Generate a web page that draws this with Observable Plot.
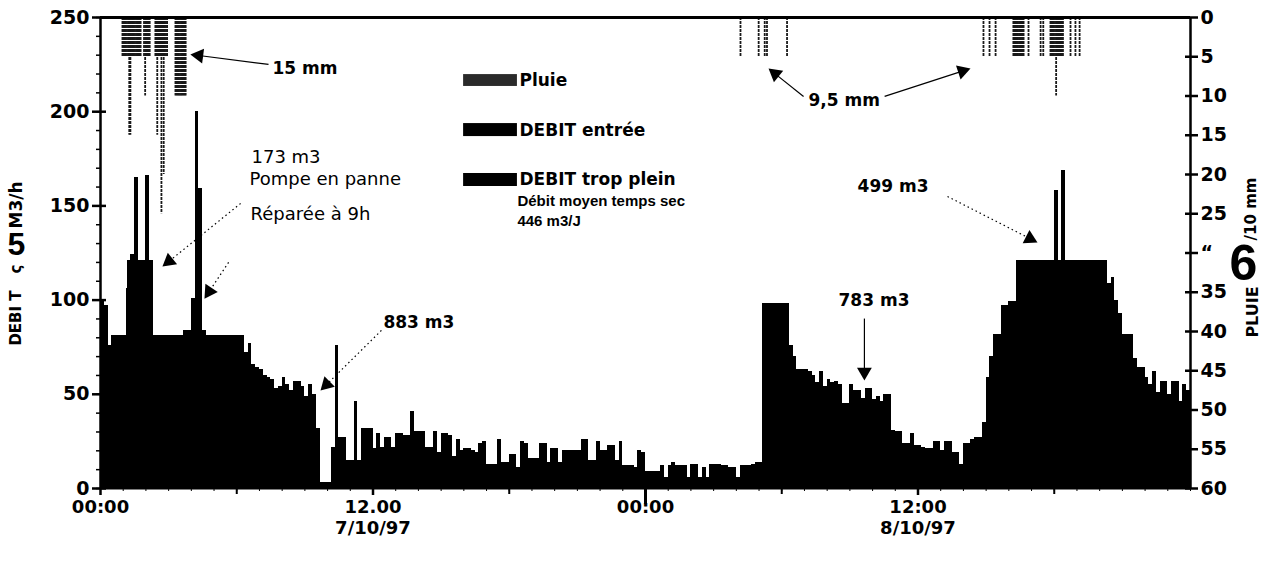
<!DOCTYPE html>
<html><head><meta charset="utf-8">
<script src="https://cdn.jsdelivr.net/npm/d3@7"></script>
<script src="https://cdn.jsdelivr.net/npm/@observablehq/plot@0.6"></script>
<style>body{margin:0;background:#fff} #chart svg{display:block}</style>
</head><body><div id="chart"></div>
<script>
// ---- DATA ----
const stepMinutes = 10; // DEBIT entrée, one value every 10 minutes from 7/10/97 00:00
const debitEntree = [
100,97,76,81,81,81,81,106,124,165,121,121,166,106,81,81,81,81,81,81,81,81,84,84,101,200,159,84,81,81,81,81,81,81,81,81,81,81,72,77,
66,64,63,60,59,58,53,54,59,55,52,57,57,54,49,55,50,32,3,3,3,22,76,27,27,15,15,46,15,32,32,32,21,29,22,27,27,22,29,29,
28,28,41,30,30,30,22,22,30,19,29,29,28,17,26,20,21,21,20,19,24,25,13,13,13,26,14,14,18,18,11,25,24,16,16,16,24,24,14,21,
21,14,20,20,20,20,20,26,26,15,15,25,20,20,23,23,15,25,12,12,12,11,20,19,9,9,9,9,12,6,12,14,12,12,12,6,13,13,6,11,
6,13,13,13,12,12,11,11,6,12,12,12,13,14,14,61,98,98,98,98,97,93,76,70,63,63,63,62,60,56,62,54,58,56,57,55,45,45,55,52,
52,48,53,53,47,49,46,50,50,31,30,30,24,24,29,23,23,22,21,21,25,25,20,25,25,19,19,13,24,24,26,27,27,35,59,70,82,82,97,97,
99,99,121,121,121,121,121,121,121,121,121,121,158,121,169,121,121,121,121,121,121,121,121,121,121,121,109,112,100,93,82,82,82,69,64,64,59,55,62,51,
57,57,50,57,57,46,55,52
];
// DEBIT trop plein: flat overflow plateaus (start hour, end hour, m3/h)
const tropPleinStart = [0.5, 1.17, 29.17, 40.33];
const tropPleinEnd   = [6.25, 2.33, 30.33, 44.33];
const tropPleinValue = [81, 121, 98, 121];
// Pluie: tipping events (minutes from 7/10/97 00:00) and depth in 1/10 mm
const rainMinute = [58,61,64,67,70,73,76,79,82,85,88,91,94,97,100,103,106,
 115,118,121,124,127,130,
 145,148,150,153,156,159,161,164,167,170,173,176,
 198,201,204,207,210,213,216,219,222,225,
 1691,1739,1755,1761,1814,
 2333,2349,2365,2412,2415,2418,2421,2424,2427,2430,2433,2436,2439,2452,2484,2491,
 2510,2513,2516,2519,2522,2525,2528,2531,2534,2537,2540,2543,2563,2576,2587];
const rainTenths = [5,5,5,5,5,5,15,15,5,5,5,5,5,5,5,5,5,
 5,10,5,5,5,5,
 5,5,15,5,5,5,25,5,20,5,5,5,
 10,10,10,10,10,10,10,10,10,10,
 5,5,5,5,5,
 5,5,5,5,5,5,5,5,5,5,5,5,5,5,5,5,
 5,5,5,5,5,10,5,5,5,5,5,5,5,5,5];
// axes
const xTickHours = [0, 12, 24, 36];
const xTickLabels = ["00:00", "12.00", "00:00", "12:00"];
const dateTickHours = [12, 36];
const dateTickLabels = ["7/10/97", "8/10/97"];
const debitTicks = [0, 50, 100, 150, 200, 250];
const pluieTicks = [0,5,10,15,20,25,30,35,40,45,50,55,60];
const pluieTickLabels = ["0","5","10","15","20","25","\u201c","35","40","45","50","55","60"];
// legend & annotations
const legendNames = ["Pluie", "DEBIT entrée", "DEBIT trop plein"];
const boldNotes = ["15 mm", "9,5 mm", "883 m3", "783 m3", "499 m3"];
const boldNoteHour = [7.57, 31.18, 12.46, 32.5, 33.34];
const boldNoteDebit = [222.9, 205.9, 88.1, 99.8, 160.3];
const plainNotes = ["173 m3", "Pompe en panne", "Réparée à 9h"];
const plainNoteHour = [6.65, 6.56, 6.61];
const plainNoteDebit = [175.7, 164.0, 145.4];
const dryNotes = ["Débit moyen temps sec", "446 m3/J"];
const dryNoteDebit = [152.3, 141.7];
const arrowFromHour  = [7.40, 30.96, 34.53, 6.17, 5.64, 12.37, 33.64, 37.30];
const arrowFromDebit = [225.1, 208.1, 208.1, 151.3, 120.0, 83.9, 90.2, 155.0];
const arrowToHour    = [3.96, 29.42, 38.31, 2.73, 4.58, 9.69, 33.64, 41.26];
const arrowToDebit   = [230.4, 222.9, 222.9, 117.8, 100.8, 52.0, 57.3, 130.6];
const arrowDotted    = [false, false, false, true, true, true, false, true];

// ---- BUILD ----
const W = 1272, H = 566, mL = 100, mR = 82, mT = 17, mB = 78;
const xMax = 48, yMax = 250, pluieMax = 60;
const pxH = (W - mL - mR) / xMax, pxD = (H - mT - mB) / yMax;
const pluieToDebit = k => yMax - k * yMax / pluieMax;

const entreeData = debitEntree.map((v, i) => ({t0: i * stepMinutes / 60, t1: (i + 1) * stepMinutes / 60, v}));
const tpData = tropPleinValue.map((v, i) => ({t0: tropPleinStart[i], t1: tropPleinEnd[i], v}));
const rainData = rainMinute.map((m, i) => ({h: m / 60, y2: pluieToDebit(rainTenths[i])}));

const arrows = arrowFromHour.map((x1, i) => {
  const x2 = arrowToHour[i], y1 = arrowFromDebit[i], y2 = arrowToDebit[i];
  const dxp = (x2 - x1) * pxH, dyp = -(y2 - y1) * pxD, len = Math.hypot(dxp, dyp);
  const ux = dxp / len, uy = dyp / len, back = 8.5;
  return {x1, y1, xc: x2 - back * ux / pxH, yc: y2 + back * uy / pxD,
          angle: Math.atan2(ux, -uy) * 180 / Math.PI, dotted: arrowDotted[i]};
});

const legendRows = legendNames.map((name, i) => ({name, top: [219.7, 193.7, 167.2][i], bottom: [213.4, 186.8, 160.3][i], fill: ["#2a2a2a", "#000", "#000"][i]}));

const bold = "bold";
const fam = "DejaVu Sans, Liberation Sans, Arial, sans-serif";
const narrow = "Liberation Sans Narrow, Liberation Sans, sans-serif";
const blank = () => "";

const chart = Plot.plot({
  width: W, height: H, marginLeft: mL, marginRight: mR, marginTop: mT, marginBottom: mB,
  x: {domain: [0, xMax], axis: null},
  y: {domain: [0, yMax], axis: null},
  style: {fontFamily: fam, background: "#fff", color: "#000", overflow: "visible"},
  marks: [
    Plot.rect(entreeData, {x1: "t0", x2: "t1", y1: 0, y2: "v", fill: "#000", shapeRendering: "crispEdges"}),
    Plot.rect(tpData, {x1: "t0", x2: "t1", y1: 0, y2: "v", fill: "#000", shapeRendering: "crispEdges"}),
    Plot.ruleX(rainData, {x: "h", y1: yMax, y2: "y2", stroke: "#1a1a1a", strokeWidth: 1.8, strokeDasharray: "3,1"}),
    // frame lines
    Plot.ruleX([0], {stroke: "#000", strokeWidth: 2.5}),
    Plot.ruleX([xMax], {stroke: "#000", strokeWidth: 2.5}),
    Plot.ruleY([yMax], {stroke: "#000", strokeWidth: 3}),
    Plot.ruleY([0], {stroke: "#000", strokeWidth: 2}),
    // left axis
    Plot.axisY(d3.range(0, yMax + 1, 10), {anchor: "left", tickSize: 4, tickFormat: blank, label: null, strokeWidth: 1.5}),
    Plot.axisY(debitTicks, {anchor: "left", tickSize: 8, tickPadding: 3, fontSize: 19, fontWeight: bold, label: null, strokeWidth: 2.5}),
    Plot.axisY(debitTicks, {anchor: "left", tickSize: -6, tickFormat: blank, label: null, strokeWidth: 2.5}),
    // right axis (pluie, inverted)
    Plot.axisY(pluieTicks.map(pluieToDebit), {anchor: "right", tickSize: 7, tickPadding: 3, fontSize: 19, fontWeight: bold, label: null, strokeWidth: 2.5,
      tickFormat: d => pluieTickLabels[Math.round((yMax - d) * pluieMax / yMax / 5)]}),
    Plot.axisY(pluieTicks.map(pluieToDebit), {anchor: "right", tickSize: -6, tickFormat: blank, label: null, strokeWidth: 2.5}),
    // x axis
    Plot.axisX(d3.range(0, xMax + 1, 1), {tickSize: 3, tickFormat: blank, label: null}),
    Plot.axisX(d3.range(6, xMax, 12), {tickSize: 6, tickFormat: blank, label: null, strokeWidth: 2}),
    Plot.axisX([24], {tickSize: 16, tickFormat: blank, label: null, strokeWidth: 3}),
    Plot.axisX(xTickHours, {tickSize: 7, tickPadding: 5, fontSize: 18, fontWeight: bold, label: null, strokeWidth: 2.5,
      tickFormat: d => xTickLabels[xTickHours.indexOf(d)]}),
    Plot.axisX(dateTickHours, {tickSize: 0, tickPadding: 33, fontSize: 18, fontWeight: bold, label: null,
      tickFormat: d => dateTickLabels[dateTickHours.indexOf(d)]}),
    // axis titles
    Plot.text(["DEBI T"], {frameAnchor: "left", textAnchor: "middle", dx: -84, dy: 65, rotate: -90, fontSize: 15, fontWeight: bold}),
    Plot.text(["\u03c2"], {frameAnchor: "left", textAnchor: "middle", dx: -84, dy: 16, rotate: -90, fontSize: 15, fontWeight: bold}),
    Plot.text(["5"], {frameAnchor: "left", textAnchor: "middle", dx: -84, dy: -8, fontSize: 32, fontWeight: bold, fontFamily: narrow}),
    Plot.text(["M3/h"], {frameAnchor: "left", textAnchor: "middle", dx: -84, dy: -48, rotate: -90, fontSize: 17, fontWeight: bold}),
    Plot.text(["PLUIE"], {frameAnchor: "right", textAnchor: "middle", dx: 62, dy: 59, rotate: -90, fontSize: 16, fontWeight: bold}),
    Plot.text(["6"], {frameAnchor: "right", textAnchor: "middle", dx: 53, dy: 11, fontSize: 50, fontWeight: bold, fontFamily: narrow}),
    Plot.text(["/10 mm"], {frameAnchor: "right", textAnchor: "middle", dx: 61, dy: -44, rotate: -90, fontSize: 15, fontWeight: bold}),
    // legend
    Plot.rect(legendRows, {x1: 15.99, x2: 18.36, y1: "bottom", y2: "top", fill: "fill"}),
    Plot.text(legendRows, {x: 18.45, y: d => (d.top + d.bottom) / 2, text: "name", textAnchor: "start", fontSize: 17, fontWeight: bold}),
    Plot.text(dryNotes, {x: 18.36, y: (d, i) => dryNoteDebit[i], text: d => d, textAnchor: "start", fontSize: 15, fontWeight: bold, fontFamily: "Liberation Sans, Arial, sans-serif"}),
    // annotations
    Plot.text(boldNotes, {x: (d, i) => boldNoteHour[i], y: (d, i) => boldNoteDebit[i], text: d => d, textAnchor: "start", fontSize: 17, fontWeight: bold}),
    Plot.text(plainNotes, {x: (d, i) => plainNoteHour[i], y: (d, i) => plainNoteDebit[i], text: d => d, textAnchor: "start", fontSize: 18}),
    Plot.link(arrows.filter(a => !a.dotted), {x1: "x1", y1: "y1", x2: "xc", y2: "yc", stroke: "#000", strokeWidth: 1.2}),
    Plot.link(arrows.filter(a => a.dotted), {x1: "x1", y1: "y1", x2: "xc", y2: "yc", stroke: "#000", strokeWidth: 1.2, strokeDasharray: "1.5,3"}),
    Plot.dot(arrows, {x: "xc", y: "yc", rotate: "angle", symbol: "triangle", r: 5.5, fill: "#000", stroke: "none"})
  ]
});
document.getElementById("chart").appendChild(chart);
</script>
</body></html>
